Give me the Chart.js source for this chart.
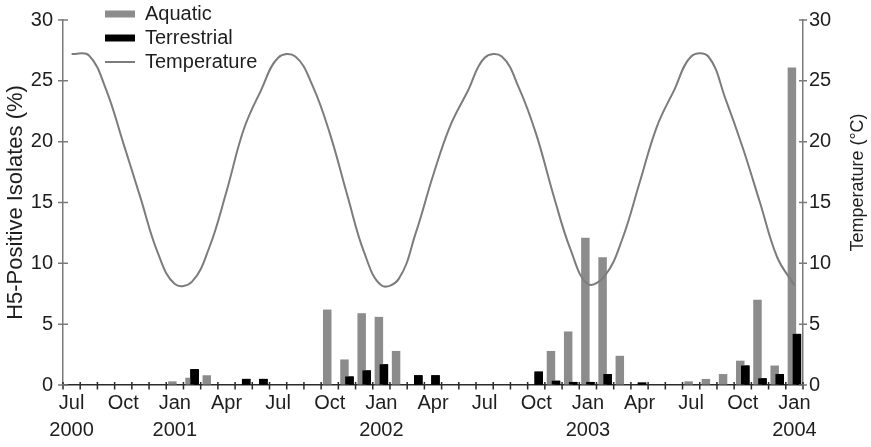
<!DOCTYPE html>
<html>
<head>
<meta charset="utf-8">
<title>H5-positive isolates and temperature</title>
<script src="https://cdn.jsdelivr.net/npm/chart.js@4.4.1/dist/chart.umd.min.js"></script>
<style>
  html, body { margin: 0; padding: 0; background: #ffffff; }
  canvas { display: block; }
</style>
</head>
<body>
<canvas id="chart" width="871" height="447"></canvas>
<script>
// Monthly sampling periods, July 2000 to January 2004
const categories = [
  'Jul 2000', 'Aug 2000', 'Sep 2000', 'Oct 2000', 'Nov 2000', 'Dec 2000',
  'Jan 2001', 'Feb 2001', 'Mar 2001', 'Apr 2001', 'May 2001', 'Jun 2001',
  'Jul 2001', 'Aug 2001', 'Sep 2001', 'Oct 2001', 'Nov 2001', 'Dec 2001',
  'Jan 2002', 'Feb 2002', 'Mar 2002', 'Apr 2002', 'May 2002', 'Jun 2002',
  'Jul 2002', 'Aug 2002', 'Sep 2002', 'Oct 2002', 'Nov 2002', 'Dec 2002',
  'Jan 2003', 'Feb 2003', 'Mar 2003', 'Apr 2003', 'May 2003', 'Jun 2003',
  'Jul 2003', 'Aug 2003', 'Sep 2003', 'Oct 2003', 'Nov 2003', 'Dec 2003',
  'Jan 2004'
];

// Months that get a label on the time axis
const tickMonths = ['Jan', 'Apr', 'Jul', 'Oct'];

// H5-positive isolates (%), aquatic birds
const aquatic = [
  0, 0, 0, 0, 0, 0,
  0.3, 0.6, 0.8, 0, 0, 0,
  0, 0, 0, 6.2, 2.1, 5.9,
  5.6, 2.8, 0, 0, 0, 0,
  0, 0, 0, 0, 2.8, 4.4,
  12.1, 10.5, 2.4, 0, 0, 0,
  0.3, 0.5, 0.9, 2.0, 7.0, 1.6,
  26.1
];

// H5-positive isolates (%), terrestrial birds
const terrestrial = [
  0, 0, 0, 0, 0, 0,
  0, 1.3, 0, 0, 0.5, 0.5,
  0, 0, 0, 0, 0.7, 1.2,
  1.7, 0, 0.8, 0.8, 0, 0,
  0, 0, 0, 1.1, 0.35, 0.25,
  0.25, 0.9, 0, 0.2, 0, 0,
  0, 0, 0, 1.6, 0.55, 0.9,
  4.2
];

// Mean monthly air temperature (°C)
const temperature = [
  27.2, 27.1, 24.3, 19.9, 15.4, 10.9,
  8.3, 8.5, 11.3, 15.9, 21.0, 24.2,
  26.9, 27.0, 24.6, 20.7, 15.7, 10.9,
  8.2, 8.7, 12.5, 17.2, 21.3, 24.1,
  26.9, 27.0, 24.4, 20.6, 15.6, 11.1,
  8.3, 9.0, 12.0, 16.6, 21.2, 24.2,
  27.0, 27.0, 23.5, 19.5, 15.0, 10.5,
  8.2
];

const leftAxisTitle = 'H5-Positive Isolates (%)';
const rightAxisTitle = 'Temperature (\u00B0C)';

const FONT = '"Liberation Sans", Arial, Helvetica, sans-serif';
const TEXT = '#1e1e1e';
const AXIS_GREY = '#7a7a7a';
const AXIS_DARK = '#2a2a2a';

Chart.defaults.font.family = FONT;
Chart.defaults.color = TEXT;

// Quarter-month labels, with the year underneath at the start and each January
function tickLabel(i) {
  const [mon, year] = categories[i].split(' ');
  if (!tickMonths.includes(mon)) return '';
  return (i === 0 || mon === 'Jan') ? [mon, year] : mon;
}

// Tick marks that cross the axis lines, plus the right-hand axis title
const axisDecorations = {
  id: 'axisDecorations',
  afterDraw(chart) {
    const { ctx, chartArea, scales: { x, y, y2 } } = chart;
    ctx.save();
    ctx.lineWidth = 1.5;

    ctx.strokeStyle = AXIS_DARK;
    ctx.beginPath();
    for (let k = 0; k <= categories.length; k++) {
      const px = x.getPixelForValue(k - 0.5);
      ctx.moveTo(px, chartArea.bottom - 3);
      ctx.lineTo(px, chartArea.bottom + 4.5);
    }
    ctx.stroke();

    ctx.strokeStyle = AXIS_GREY;
    ctx.beginPath();
    y.ticks.forEach(t => {
      const py = y.getPixelForValue(t.value);
      ctx.moveTo(chartArea.left - 5, py);
      ctx.lineTo(chartArea.left + 5, py);
    });
    y2.ticks.forEach(t => {
      const py = y2.getPixelForValue(t.value);
      ctx.moveTo(chartArea.right - 4, py);
      ctx.lineTo(chartArea.right + 4, py);
    });
    ctx.stroke();

    ctx.translate(y2.right - 13, (chartArea.top + chartArea.bottom) / 2 - 20);
    ctx.rotate(-Math.PI / 2);
    ctx.font = '18px ' + FONT;
    ctx.fillStyle = TEXT;
    ctx.textAlign = 'center';
    ctx.textBaseline = 'middle';
    ctx.fillText(rightAxisTitle, 0, 0);
    ctx.restore();
  }
};

// Terrestrial bars sit in front of the aquatic bars they overlap
const terrestrialInFront = {
  id: 'terrestrialInFront',
  afterDatasetDraw(chart, args) {
    if (chart.data.datasets[args.index].label !== 'Aquatic') return;
    const idx = chart.data.datasets.findIndex(d => d.label === 'Terrestrial');
    const meta = chart.getDatasetMeta(idx);
    if (meta.visible) meta.controller.draw();
  }
};

// Legend sits in the top-left corner, above the plot
const legendPlacement = {
  id: 'legendPlacement',
  afterLayout(chart) {
    chart.legend.left = chart.chartArea.left + 38;
    chart.legend.top = 0;
  }
};

new Chart(document.getElementById('chart'), {
  type: 'bar',
  data: {
    labels: categories,
    datasets: [
      {
        type: 'bar',
        label: 'Aquatic',
        data: aquatic,
        backgroundColor: '#8c8c8c',
        borderWidth: 0,
        yAxisID: 'y',
        order: 1,
        categoryPercentage: 0.58,
        barPercentage: 1.7,
        pointStyle: 'rect'
      },
      {
        type: 'bar',
        label: 'Terrestrial',
        data: terrestrial,
        backgroundColor: '#000000',
        borderWidth: 0,
        yAxisID: 'y',
        order: 2,
        categoryPercentage: 0.58,
        barPercentage: 1.7,
        pointStyle: 'rect'
      },
      {
        type: 'line',
        label: 'Temperature',
        data: temperature,
        borderColor: '#7c7c7c',
        backgroundColor: '#7c7c7c',
        borderWidth: 2,
        pointRadius: 0,
        tension: 0.4,
        fill: false,
        yAxisID: 'y2',
        order: 0,
        pointStyle: 'line'
      }
    ]
  },
  options: {
    responsive: false,
    devicePixelRatio: 1,
    animation: false,
    events: [],
    layout: { padding: { top: 20, left: 0, right: 0, bottom: 0 } },
    plugins: {
      tooltip: { enabled: false },
      legend: {
        position: 'chartArea',
        align: 'start',
        labels: {
          usePointStyle: true,
          pointStyleWidth: 30,
          boxWidth: 30,
          boxHeight: 7,
          padding: 4,
          color: TEXT,
          font: { size: 20, family: FONT },
          generateLabels(chart) {
            const items = Chart.defaults.plugins.legend.labels.generateLabels(chart);
            items.forEach(it => {
              const ds = chart.data.datasets[it.datasetIndex];
              it.pointStyle = ds.type === 'line' ? 'line' : 'rect';
            });
            return items.sort((a, b) => a.datasetIndex - b.datasetIndex);
          }
        }
      }
    },
    scales: {
      x: {
        type: 'category',
        offset: true,
        grid: {
          display: true,
          offset: true,
          drawOnChartArea: false,
          drawTicks: true,
          tickLength: 5,
          color: 'rgba(0,0,0,0)'
        },
        border: { display: true, color: AXIS_DARK, width: 1.5 },
        ticks: {
          autoSkip: false,
          maxRotation: 0,
          minRotation: 0,
          padding: 0,
          color: TEXT,
          font: { size: 20, lineHeight: 1.35 },
          callback: (value, index) => tickLabel(index)
        },
        afterFit(scale) { scale.height = 62; }
      },
      y: {
        position: 'left',
        min: 0,
        max: 30,
        grid: {
          drawOnChartArea: false,
          drawTicks: true,
          tickLength: 5,
          color: 'rgba(0,0,0,0)'
        },
        border: { display: true, color: AXIS_GREY, width: 1.5 },
        ticks: {
          stepSize: 5,
          padding: 5,
          color: TEXT,
          font: { size: 20 }
        },
        title: {
          display: true,
          text: leftAxisTitle,
          color: TEXT,
          font: { size: 22 },
          padding: { top: 3, bottom: 0 }
        },
        afterFit(scale) { scale.width = 63; }
      },
      y2: {
        position: 'right',
        min: 0,
        max: 30,
        grid: {
          drawOnChartArea: false,
          drawTicks: true,
          tickLength: 4,
          color: 'rgba(0,0,0,0)'
        },
        border: { display: true, color: AXIS_GREY, width: 1.5 },
        ticks: {
          stepSize: 5,
          padding: 2,
          color: TEXT,
          font: { size: 20 }
        },
        afterFit(scale) { scale.width = 68; }
      }
    }
  },
  plugins: [terrestrialInFront, legendPlacement, axisDecorations]
});
</script>
</body>
</html>
